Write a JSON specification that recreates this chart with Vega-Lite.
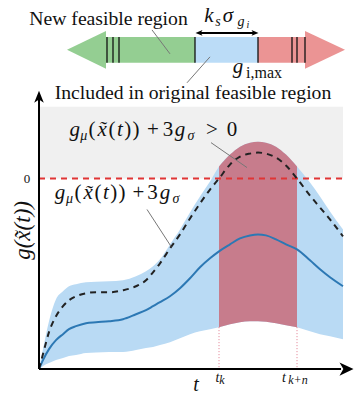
{
  "$schema": "https://vega.github.io/schema/vega-lite/v6.json",
  "width": 354,
  "height": 395,
  "autosize": {"type": "fit", "contains": "padding"},
  "padding": 0,
  "background": "white",
  "view": {"stroke": null},
  "config": {"text": {"font": "Liberation Serif"}},
  "datasets": {
    "curve": [
      {"t": 0, "mean": -191, "upper": -191, "hi": -191, "lo": -191},
      {"t": 4, "mean": -182, "upper": -176, "hi": -171, "lo": -188},
      {"t": 10, "mean": -171, "upper": -154, "hi": -143, "lo": -185},
      {"t": 17, "mean": -162, "upper": -138, "hi": -121, "lo": -182},
      {"t": 24, "mean": -156, "upper": -128, "hi": -113, "lo": -180},
      {"t": 30, "mean": -151, "upper": -122, "hi": -108, "lo": -178},
      {"t": 37, "mean": -148, "upper": -118, "hi": -106, "lo": -177},
      {"t": 47, "mean": -145, "upper": -115, "hi": -104, "lo": -175},
      {"t": 57, "mean": -144, "upper": -114, "hi": -103.5, "lo": -174.5},
      {"t": 70, "mean": -143, "upper": -114, "hi": -103, "lo": -174},
      {"t": 84, "mean": -141, "upper": -112, "hi": -102, "lo": -174},
      {"t": 97, "mean": -136, "upper": -108, "hi": -98, "lo": -172},
      {"t": 107, "mean": -132, "upper": -102, "hi": -93, "lo": -170},
      {"t": 114, "mean": -128, "upper": -94, "hi": -88, "lo": -169},
      {"t": 121, "mean": -124, "upper": -85, "hi": -81, "lo": -167},
      {"t": 131, "mean": -118, "upper": -70, "hi": -66, "lo": -164},
      {"t": 141, "mean": -110, "upper": -56, "hi": -51, "lo": -160},
      {"t": 151, "mean": -100, "upper": -40, "hi": -34, "lo": -156},
      {"t": 161, "mean": -89, "upper": -25, "hi": -18, "lo": -153},
      {"t": 171, "mean": -80, "upper": -11, "hi": -3, "lo": -151},
      {"t": 180, "mean": -73, "upper": 0, "hi": 12, "lo": -149},
      {"t": 191, "mean": -66, "upper": 14, "hi": 24, "lo": -146},
      {"t": 201, "mean": -60, "upper": 22, "hi": 32, "lo": -144},
      {"t": 211, "mean": -57, "upper": 25, "hi": 36, "lo": -143},
      {"t": 219, "mean": -56, "upper": 26, "hi": 37, "lo": -143},
      {"t": 227, "mean": -57, "upper": 25, "hi": 36, "lo": -143.5},
      {"t": 237, "mean": -61, "upper": 21, "hi": 32, "lo": -145},
      {"t": 247, "mean": -66, "upper": 13, "hi": 24, "lo": -147},
      {"t": 258, "mean": -71, "upper": 0, "hi": 12, "lo": -149},
      {"t": 271, "mean": -82, "upper": -17, "hi": -4, "lo": -153},
      {"t": 281, "mean": -91, "upper": -29, "hi": -18, "lo": -156},
      {"t": 291, "mean": -99, "upper": -41, "hi": -33, "lo": -158},
      {"t": 304, "mean": -108, "upper": -58, "hi": -51, "lo": -161}
    ],
    "regions": [
      {"t": 67, "t2": 156, "g": 142, "g2": 116, "part": "new"},
      {"t": 156, "t2": 219, "g": 142, "g2": 116, "part": "included"},
      {"t": 219, "t2": 266, "g": 142, "g2": 116, "part": "infeasible"}
    ],
    "heads": [
      {"t": 28, "hi": 129, "lo": 129, "part": "new"},
      {"t": 67, "hi": 148, "lo": 110, "part": "new"},
      {"t": 266, "hi": 148, "lo": 110, "part": "infeasible"},
      {"t": 306, "hi": 129, "lo": 129, "part": "infeasible"}
    ]
  },
  "layer": [
    {
      "data": {"values": [{"t": 0, "t2": 304, "g": 72, "g2": 0}]},
      "mark": {"type": "rect", "color": "#f0f0f0"},
      "encoding": {
        "x": {"field": "t", "type": "quantitative", "scale": {"domain": [-39, 315], "nice": false}, "axis": null},
        "x2": {"field": "t2"},
        "y": {"field": "g", "type": "quantitative", "scale": {"domain": [-216, 179], "nice": false}, "axis": null},
        "y2": {"field": "g2"}
      }
    },
    {
      "data": {"name": "curve"},
      "mark": {"type": "area", "color": "#b9daf4", "interpolate": "monotone"},
      "encoding": {
        "x": {"field": "t", "type": "quantitative", "scale": {"domain": [-39, 315], "nice": false}, "axis": null},
        "y": {"field": "hi", "type": "quantitative", "scale": {"domain": [-216, 179], "nice": false}, "axis": null},
        "y2": {"field": "lo"}
      }
    },
    {
      "data": {"name": "curve"},
      "transform": [{"filter": "datum.t >= 180 && datum.t <= 258"}],
      "mark": {"type": "area", "color": "#c77c8c", "interpolate": "monotone"},
      "encoding": {
        "x": {"field": "t", "type": "quantitative", "scale": {"domain": [-39, 315], "nice": false}, "axis": null},
        "y": {"field": "hi", "type": "quantitative", "scale": {"domain": [-216, 179], "nice": false}, "axis": null},
        "y2": {"field": "lo"}
      }
    },
    {
      "data": {"values": [{"t": 0, "t2": 304, "g": 0}]},
      "mark": {"type": "rule", "color": "#e03535", "strokeWidth": 2, "strokeDash": [6, 5]},
      "encoding": {
        "x": {"field": "t", "type": "quantitative", "scale": {"domain": [-39, 315], "nice": false}, "axis": null},
        "x2": {"field": "t2"},
        "y": {"field": "g", "type": "quantitative", "scale": {"domain": [-216, 179], "nice": false}, "axis": null}
      }
    },
    {
      "data": {"name": "curve"},
      "mark": {"type": "line", "color": "#2c78b4", "strokeWidth": 2, "interpolate": "monotone"},
      "encoding": {
        "x": {"field": "t", "type": "quantitative", "scale": {"domain": [-39, 315], "nice": false}, "axis": null},
        "y": {"field": "mean", "type": "quantitative", "scale": {"domain": [-216, 179], "nice": false}, "axis": null}
      }
    },
    {
      "data": {"name": "curve"},
      "mark": {"type": "line", "color": "#222222", "strokeWidth": 2, "strokeDash": [6, 5], "interpolate": "monotone"},
      "encoding": {
        "x": {"field": "t", "type": "quantitative", "scale": {"domain": [-39, 315], "nice": false}, "axis": null},
        "y": {"field": "upper", "type": "quantitative", "scale": {"domain": [-216, 179], "nice": false}, "axis": null}
      }
    },
    {
      "data": {"values": [{"t": 180, "g": -149, "g2": -191}, {"t": 258, "g": -149, "g2": -191}]},
      "mark": {"type": "rule", "color": "#e07a8e", "strokeWidth": 1, "strokeDash": [1, 2]},
      "encoding": {
        "x": {"field": "t", "type": "quantitative", "scale": {"domain": [-39, 315], "nice": false}, "axis": null},
        "y": {"field": "g", "type": "quantitative", "scale": {"domain": [-216, 179], "nice": false}, "axis": null},
        "y2": {"field": "g2"}
      }
    },
    {
      "data": {"name": "regions"},
      "mark": {"type": "rect"},
      "encoding": {
        "x": {"field": "t", "type": "quantitative", "scale": {"domain": [-39, 315], "nice": false}, "axis": null},
        "x2": {"field": "t2"},
        "y": {"field": "g", "type": "quantitative", "scale": {"domain": [-216, 179], "nice": false}, "axis": null},
        "y2": {"field": "g2"},
        "color": {"field": "part", "type": "nominal", "scale": {"domain": ["new", "included", "infeasible"], "range": ["#94ce92", "#bbdcf7", "#eb9494"]}, "legend": null}
      }
    },
    {
      "data": {"name": "heads"},
      "mark": {"type": "area"},
      "encoding": {
        "x": {"field": "t", "type": "quantitative", "scale": {"domain": [-39, 315], "nice": false}, "axis": null},
        "y": {"field": "hi", "type": "quantitative", "scale": {"domain": [-216, 179], "nice": false}, "axis": null},
        "y2": {"field": "lo"},
        "color": {"field": "part", "type": "nominal", "scale": {"domain": ["new", "included", "infeasible"], "range": ["#94ce92", "#bbdcf7", "#eb9494"]}, "legend": null}
      }
    },
    {
      "data": {"values": [{"t": 68}, {"t": 74}, {"t": 80}, {"t": 156}, {"t": 219}, {"t": 253}, {"t": 258}, {"t": 266}]},
      "mark": {"type": "rule", "color": "#111111", "strokeWidth": 1.3},
      "encoding": {
        "x": {"field": "t", "type": "quantitative", "scale": {"domain": [-39, 315], "nice": false}, "axis": null},
        "y": {"datum": 142, "type": "quantitative", "scale": {"domain": [-216, 179], "nice": false}, "axis": null},
        "y2": {"datum": 116}
      }
    },
    {
      "data": {"values": [
        {"t": 113, "g": 149, "t2": 131, "g2": 125},
        {"t": 148, "g": 96, "t2": 171, "g2": 122},
        {"t": 172, "g": 36, "t2": 208, "g2": 11},
        {"t": 108, "g": -31, "t2": 132, "g2": -68}
      ]},
      "mark": {"type": "rule", "color": "#777777", "strokeWidth": 1},
      "encoding": {
        "x": {"field": "t", "type": "quantitative", "scale": {"domain": [-39, 315], "nice": false}, "axis": null},
        "x2": {"field": "t2"},
        "y": {"field": "g", "type": "quantitative", "scale": {"domain": [-216, 179], "nice": false}, "axis": null},
        "y2": {"field": "g2"}
      }
    },
    {
      "data": {"values": [
        {"t": 0, "g": -191, "t2": 302, "g2": -191},
        {"t": 0, "g": -191, "t2": 0, "g2": 80},
        {"t": 159, "g": 146, "t2": 217, "g2": 146}
      ]},
      "mark": {"type": "rule", "color": "#000000", "strokeWidth": 2},
      "encoding": {
        "x": {"field": "t", "type": "quantitative", "scale": {"domain": [-39, 315], "nice": false}, "axis": null},
        "x2": {"field": "t2"},
        "y": {"field": "g", "type": "quantitative", "scale": {"domain": [-216, 179], "nice": false}, "axis": null},
        "y2": {"field": "g2"}
      }
    },
    {
      "data": {"values": [{"t": 307.5, "g": -191}]},
      "mark": {"type": "point", "filled": true, "color": "#000000", "opacity": 1, "size": 196, "shape": "M 1 0 L -1 -0.95 L -0.45 0 L -1 0.95 Z"},
      "encoding": {
        "x": {"field": "t", "type": "quantitative", "scale": {"domain": [-39, 315], "nice": false}, "axis": null},
        "y": {"field": "g", "type": "quantitative", "scale": {"domain": [-216, 179], "nice": false}, "axis": null}
      }
    },
    {
      "data": {"values": [{"t": 0, "g": 82}]},
      "mark": {"type": "point", "filled": true, "color": "#000000", "opacity": 1, "size": 144, "shape": "M 0 -1 L 0.8 1 L 0 0.45 L -0.8 1 Z"},
      "encoding": {
        "x": {"field": "t", "type": "quantitative", "scale": {"domain": [-39, 315], "nice": false}, "axis": null},
        "y": {"field": "g", "type": "quantitative", "scale": {"domain": [-216, 179], "nice": false}, "axis": null}
      }
    },
    {
      "data": {"values": [{"t": 160, "g": 146}]},
      "mark": {"type": "point", "filled": true, "color": "#000000", "opacity": 1, "size": 49, "shape": "M -1 0 L 1 -0.8 L 0.5 0 L 1 0.8 Z"},
      "encoding": {
        "x": {"field": "t", "type": "quantitative", "scale": {"domain": [-39, 315], "nice": false}, "axis": null},
        "y": {"field": "g", "type": "quantitative", "scale": {"domain": [-216, 179], "nice": false}, "axis": null}
      }
    },
    {
      "data": {"values": [{"t": 216, "g": 146}]},
      "mark": {"type": "point", "filled": true, "color": "#000000", "opacity": 1, "size": 49, "shape": "M 1 0 L -1 -0.8 L -0.5 0 L -1 0.8 Z"},
      "encoding": {
        "x": {"field": "t", "type": "quantitative", "scale": {"domain": [-39, 315], "nice": false}, "axis": null},
        "y": {"field": "g", "type": "quantitative", "scale": {"domain": [-216, 179], "nice": false}, "axis": null}
      }
    },
    {
      "data": {"values": [
        {"t": 69.5, "g": 154, "label": "New feasible region"},
        {"t": 154, "g": 80, "label": "Included in original feasible region"}
      ]},
      "mark": {"type": "text", "font": "Liberation Serif", "fontSize": 19.7, "align": "center", "baseline": "alphabetic", "color": "#111111"},
      "encoding": {
        "x": {"field": "t", "type": "quantitative", "scale": {"domain": [-39, 315], "nice": false}, "axis": null},
        "y": {"field": "g", "type": "quantitative", "scale": {"domain": [-216, 179], "nice": false}, "axis": null},
        "text": {"field": "label"}
      }
    },
    {
      "data": {"values": [
        {"t": 35.7, "g": 43, "label": "g"},
        {"t": 63.1, "g": 43, "label": "x̃"},
        {"t": 80.9, "g": 43, "label": "t"},
        {"t": 141, "g": 43, "label": "g"},
        {"t": 21, "g": -21, "label": "g"},
        {"t": 49.1, "g": -21, "label": "x̃"},
        {"t": 66.9, "g": -21, "label": "t"},
        {"t": 126, "g": -21, "label": "g"},
        {"t": 170, "g": 157, "label": "k"},
        {"t": 189, "g": 157, "label": "σ"},
        {"t": 199, "g": 106, "label": "g"}
      ]},
      "mark": {"type": "text", "font": "Liberation Serif", "fontSize": 21, "fontStyle": "italic", "align": "center", "baseline": "alphabetic", "color": "#111111"},
      "encoding": {
        "x": {"field": "t", "type": "quantitative", "scale": {"domain": [-39, 315], "nice": false}, "axis": null},
        "y": {"field": "g", "type": "quantitative", "scale": {"domain": [-216, 179], "nice": false}, "axis": null},
        "text": {"field": "label"}
      }
    },
    {
      "data": {"values": [
        {"t": 53.1, "g": 43, "label": "("},
        {"t": 73.1, "g": 43, "label": "("},
        {"t": 88.8, "g": 43, "label": ")"},
        {"t": 97, "g": 43, "label": ")"},
        {"t": 114, "g": 43, "label": "+"},
        {"t": 129, "g": 43, "label": "3"},
        {"t": 173, "g": 43, "label": ">"},
        {"t": 193, "g": 43, "label": "0"},
        {"t": 39.1, "g": -21, "label": "("},
        {"t": 59.1, "g": -21, "label": "("},
        {"t": 74.8, "g": -21, "label": ")"},
        {"t": 83, "g": -21, "label": ")"},
        {"t": 99.5, "g": -21, "label": "+"},
        {"t": 113.5, "g": -21, "label": "3"}
      ]},
      "mark": {"type": "text", "font": "Liberation Serif", "fontSize": 21, "align": "center", "baseline": "alphabetic", "color": "#111111"},
      "encoding": {
        "x": {"field": "t", "type": "quantitative", "scale": {"domain": [-39, 315], "nice": false}, "axis": null},
        "y": {"field": "g", "type": "quantitative", "scale": {"domain": [-216, 179], "nice": false}, "axis": null},
        "text": {"field": "label"}
      }
    },
    {
      "data": {"values": [
        {"t": 44.8, "g": 39, "label": "μ"},
        {"t": 152, "g": 39, "label": "σ"},
        {"t": 30.5, "g": -25, "label": "μ"},
        {"t": 137, "g": -25, "label": "σ"},
        {"t": 179, "g": 153, "label": "s"},
        {"t": 202, "g": 153, "label": "g"}
      ]},
      "mark": {"type": "text", "font": "Liberation Serif", "fontSize": 14, "fontStyle": "italic", "align": "center", "baseline": "alphabetic", "color": "#111111"},
      "encoding": {
        "x": {"field": "t", "type": "quantitative", "scale": {"domain": [-39, 315], "nice": false}, "axis": null},
        "y": {"field": "g", "type": "quantitative", "scale": {"domain": [-216, 179], "nice": false}, "axis": null},
        "text": {"field": "label"}
      }
    },
    {
      "data": {"values": [
        {"t": 209, "g": 151, "label": "i"}
      ]},
      "mark": {"type": "text", "font": "Liberation Serif", "fontSize": 10, "fontStyle": "italic", "align": "center", "baseline": "alphabetic", "color": "#111111"},
      "encoding": {
        "x": {"field": "t", "type": "quantitative", "scale": {"domain": [-39, 315], "nice": false}, "axis": null},
        "y": {"field": "g", "type": "quantitative", "scale": {"domain": [-216, 179], "nice": false}, "axis": null},
        "text": {"field": "label"}
      }
    },
    {
      "data": {"values": [
        {"t": 183, "g": -206, "label": "k"},
        {"t": 259, "g": -206, "label": "k+n"}
      ]},
      "mark": {"type": "text", "font": "Liberation Serif", "fontSize": 12, "fontStyle": "italic", "align": "center", "baseline": "alphabetic", "color": "#111111"},
      "encoding": {
        "x": {"field": "t", "type": "quantitative", "scale": {"domain": [-39, 315], "nice": false}, "axis": null},
        "y": {"field": "g", "type": "quantitative", "scale": {"domain": [-216, 179], "nice": false}, "axis": null},
        "text": {"field": "label"}
      }
    },
    {
      "data": {"values": [{"t": 225, "g": 101, "label": "i,max"}]},
      "mark": {"type": "text", "font": "Liberation Serif", "fontSize": 16, "align": "center", "baseline": "alphabetic", "color": "#111111"},
      "encoding": {
        "x": {"field": "t", "type": "quantitative", "scale": {"domain": [-39, 315], "nice": false}, "axis": null},
        "y": {"field": "g", "type": "quantitative", "scale": {"domain": [-216, 179], "nice": false}, "axis": null},
        "text": {"field": "label"}
      }
    },
    {
      "data": {"values": [{"t": 157, "g": -213, "label": "t"}]},
      "mark": {"type": "text", "font": "Liberation Serif", "fontSize": 20, "fontStyle": "italic", "align": "center", "baseline": "alphabetic", "color": "#111111"},
      "encoding": {
        "x": {"field": "t", "type": "quantitative", "scale": {"domain": [-39, 315], "nice": false}, "axis": null},
        "y": {"field": "g", "type": "quantitative", "scale": {"domain": [-216, 179], "nice": false}, "axis": null},
        "text": {"field": "label"}
      }
    },
    {
      "data": {"values": [{"t": 178.5, "g": -204, "label": "t"}, {"t": 245, "g": -204, "label": "t"}]},
      "mark": {"type": "text", "font": "Liberation Serif", "fontSize": 14, "fontStyle": "italic", "align": "center", "baseline": "alphabetic", "color": "#111111"},
      "encoding": {
        "x": {"field": "t", "type": "quantitative", "scale": {"domain": [-39, 315], "nice": false}, "axis": null},
        "y": {"field": "g", "type": "quantitative", "scale": {"domain": [-216, 179], "nice": false}, "axis": null},
        "text": {"field": "label"}
      }
    },
    {
      "data": {"values": [{"t": -12, "g": -4, "label": "0"}]},
      "mark": {"type": "text", "font": "Liberation Serif", "fontSize": 13, "align": "center", "baseline": "alphabetic", "color": "#111111"},
      "encoding": {
        "x": {"field": "t", "type": "quantitative", "scale": {"domain": [-39, 315], "nice": false}, "axis": null},
        "y": {"field": "g", "type": "quantitative", "scale": {"domain": [-216, 179], "nice": false}, "axis": null},
        "text": {"field": "label"}
      }
    },
    {
      "data": {"values": [{"t": -16, "g": -52, "label": "g(x̃(t))"}]},
      "mark": {"type": "text", "font": "Liberation Serif", "fontSize": 23, "fontStyle": "italic", "angle": 270, "align": "center", "baseline": "middle", "color": "#111111"},
      "encoding": {
        "x": {"field": "t", "type": "quantitative", "scale": {"domain": [-39, 315], "nice": false}, "axis": null},
        "y": {"field": "g", "type": "quantitative", "scale": {"domain": [-216, 179], "nice": false}, "axis": null},
        "text": {"field": "label"}
      }
    }
  ]
}
